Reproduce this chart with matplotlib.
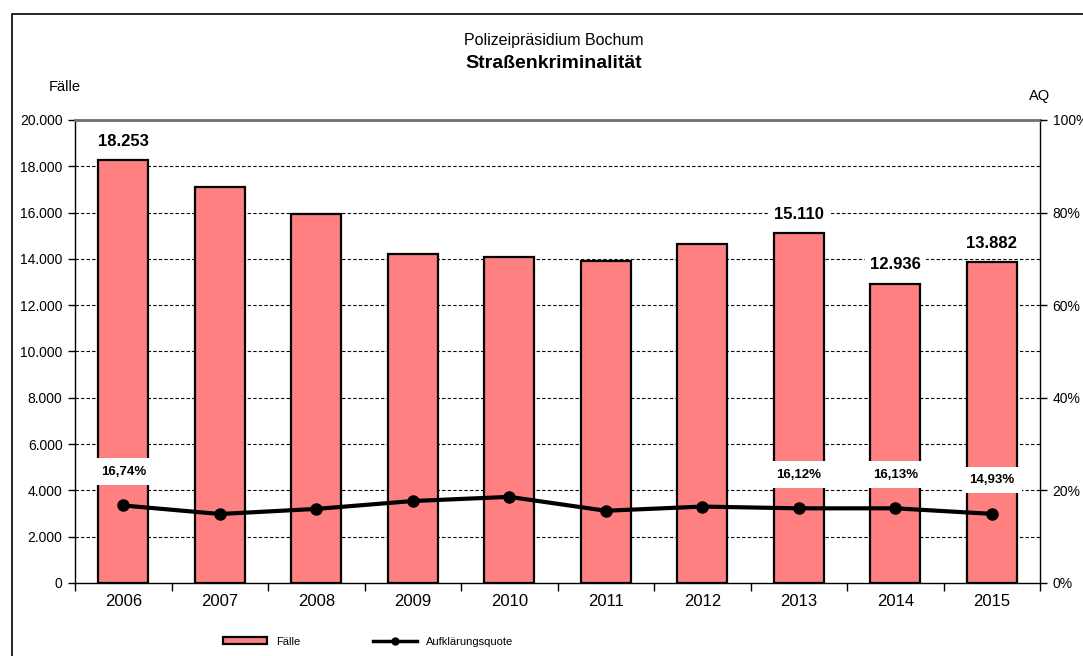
import matplotlib
matplotlib.use("Agg")
import matplotlib.pyplot as plt
from matplotlib.patches import Rectangle
from matplotlib.lines import Line2D
from matplotlib.patches import Patch

plt.rcParams['font.family'] = ['Liberation Sans', 'DejaVu Sans']

years = ['2006', '2007', '2008', '2009', '2010', '2011', '2012', '2013', '2014', '2015']
faelle = [18253, 17100, 15940, 14210, 14080, 13910, 14640, 15110, 12936, 13882]
aq = [16.74, 14.9, 16.0, 17.7, 18.6, 15.6, 16.5, 16.12, 16.13, 14.93]
bar_label_idx = [0, 7, 8, 9]
aq_label_idx = [0, 7, 8, 9]
yticks_left = [0, 2000, 4000, 6000, 8000, 10000, 12000, 14000, 16000, 18000, 20000]
yticks_right = [0, 20, 40, 60, 80, 100]

def de_int(v):
    return f"{v:,}".replace(",", ".")

def de_pct(v):
    return f"{v:.2f}".replace(".", ",") + "%"

fig = plt.figure(figsize=(10.83, 6.56), dpi=100)
ax = fig.add_axes([0.0693, 0.1113, 0.891, 0.7058])
x = list(range(len(years)))

ax.bar(x, faelle, width=0.52, color='#FF8080', edgecolor='black', linewidth=1.6, zorder=3)
ax.set_xlim(-0.5, len(years) - 0.5)
ax.set_ylim(0, 20000)
ax.set_yticks(yticks_left)
ax.set_yticklabels([de_int(v) for v in yticks_left], fontsize=10)
ax.set_xticks(x)
ax.set_xticklabels(years, fontsize=12)
ax.tick_params(axis='x', length=0, pad=8)
ax.set_xticks([i + 0.5 for i in range(-1, len(years))], minor=True)
ax.tick_params(axis='x', which='minor', length=6, width=1, direction='out')
ax.tick_params(axis='y', length=5, width=1, direction='out', pad=4)
for yv in yticks_left[1:-1]:
    ax.axhline(yv, color='black', lw=0.8, ls=(0, (3, 2)), zorder=1)
ax.spines['top'].set_color('#707070')
ax.spines['top'].set_linewidth(2)
for s in ['left', 'bottom', 'right']:
    ax.spines[s].set_linewidth(1)

for i in bar_label_idx:
    ax.annotate(de_int(faelle[i]), (x[i], faelle[i]), xytext=(0, 8), textcoords='offset points',
                ha='center', va='bottom', fontsize=12, fontweight='bold', zorder=6,
                bbox=dict(boxstyle='square,pad=0.3', fc='white', ec='none'))

ax2 = ax.twinx()
ax2.set_ylim(0, 100)
ax2.set_yticks(yticks_right)
ax2.set_yticklabels([f"{v}%" for v in yticks_right], fontsize=10)
ax2.tick_params(axis='y', length=5, width=1, direction='out', pad=4)
ax2.plot(x, aq, color='black', lw=3, marker='o', markersize=8, zorder=5)
for s in ax2.spines.values():
    s.set_visible(False)
for i in aq_label_idx:
    ax2.annotate(de_pct(aq[i]), (x[i], aq[i]), xytext=(0, 20), textcoords='offset points',
                 ha='center', va='bottom', fontsize=9.5, fontweight='bold', zorder=6,
                 bbox=dict(boxstyle='square,pad=0.55', fc='white', ec='none'))

fig.text(0.511, 0.938, 'Polizeipräsidium Bochum', ha='center', va='center', fontsize=11.5)
fig.text(0.511, 0.903, 'Straßenkriminalität', ha='center', va='center', fontsize=14, fontweight='bold')
fig.text(0.060, 0.868, 'Fälle', ha='center', va='center', fontsize=10.5)
fig.text(0.960, 0.853, 'AQ', ha='center', va='center', fontsize=10.5)

fig.patches.append(Rectangle((12 / 1083, -0.01), 1.1, 1 - 14 / 656 + 0.01, transform=fig.transFigure,
                             fill=False, ec='black', lw=1.2))

handles = [Patch(facecolor='#FF8080', edgecolor='black', linewidth=1.6),
           Line2D([0], [0], color='black', lw=2.5, marker='o', markersize=5)]
fig.legend(handles, ['Fälle', 'Aufklärungsquote'], loc='center', bbox_to_anchor=(0.34, 0.022),
           ncol=2, frameon=False, fontsize=8, handlelength=4, handleheight=0.6, columnspacing=6.5)

fig.savefig('out.png', dpi=100)
